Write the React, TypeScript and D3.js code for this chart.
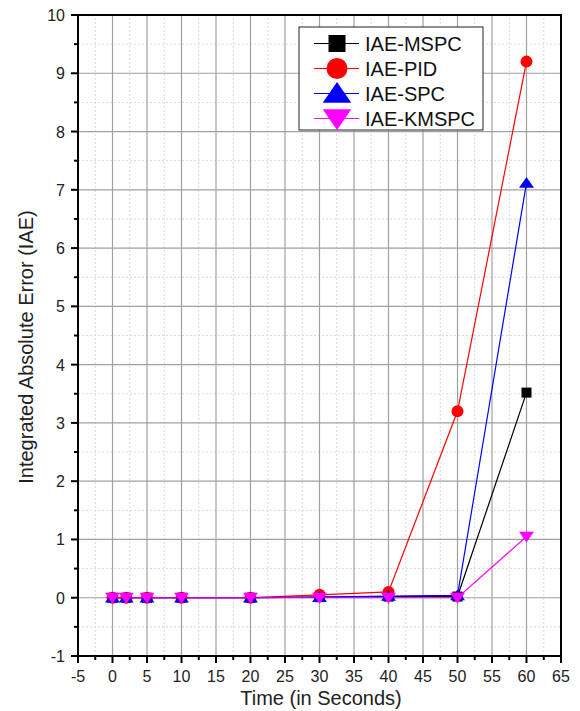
import React from "react";
import * as d3 from "d3";

const times = [0, 2, 5, 10, 20, 30, 40, 50, 60];
const mspc = [0, 0, 0, 0, 0, 0.01, 0.02, 0.02, 3.52];
const pid = [0, 0, 0, 0, 0, 0.05, 0.1, 3.2, 9.2];
const spc = [0, 0, 0, 0, 0, 0.01, 0.03, 0.04, 7.12];
const kmspc = [0, 0, 0, 0, 0, 0, 0, 0, 1.05];
const seriesNames = ["IAE-MSPC", "IAE-PID", "IAE-SPC", "IAE-KMSPC"];
const xTicks = [-5, 0, 5, 10, 15, 20, 25, 30, 35, 40, 45, 50, 55, 60, 65];
const yTicks = [-1, 0, 1, 2, 3, 4, 5, 6, 7, 8, 9, 10];

const W = 580, H = 711;
const m = { left: 78, right: 19, top: 15, bottom: 55 };

type Shape = "square" | "circle" | "up" | "down";

function Marker({ shape, x, y, s, color }: { shape: Shape; x: number; y: number; s: number; color: string }) {
  if (shape === "square") return <rect x={x - s / 2} y={y - s / 2} width={s} height={s} fill={color} />;
  if (shape === "circle") return <circle cx={x} cy={y} r={s / 2} fill={color} />;
  const w = s * 0.62, h = s * 0.9;
  if (shape === "up")
    return <path d={`M${x},${y - h * 0.55}L${x + w},${y + h * 0.45}L${x - w},${y + h * 0.45}Z`} fill={color} />;
  return <path d={`M${x},${y + h * 0.55}L${x + w},${y - h * 0.45}L${x - w},${y - h * 0.45}Z`} fill={color} />;
}

export default function App() {
  const x = d3.scaleLinear().domain([-5, 65]).range([m.left, W - m.right]);
  const y = d3.scaleLinear().domain([-1, 10]).range([H - m.bottom, m.top]);
  const series = [
    { name: seriesNames[0], vals: mspc, color: "#000000", shape: "square" as Shape, s: 10, ls: 17 },
    { name: seriesNames[1], vals: pid, color: "#ff0000", shape: "circle" as Shape, s: 12, ls: 21 },
    { name: seriesNames[2], vals: spc, color: "#0000ff", shape: "up" as Shape, s: 12, ls: 23 },
    { name: seriesNames[3], vals: kmspc, color: "#ff00ff", shape: "down" as Shape, s: 12, ls: 23 },
  ];
  const line = d3.line<number>().x((_, i) => x(times[i])).y((v) => y(v));
  const minorX = d3.range(-2.5, 65, 5);
  const minorY = d3.range(-0.5, 10, 1);
  const font = "'Liberation Sans', Arial, sans-serif";
  const x0 = x(-5), x1 = x(65), y0 = y(-1), y1 = y(10);
  const lg = { x: 299, y: 27, w: 184, h: 103 };
  return (
    <svg width={W} height={H} style={{ position: "absolute", left: 0, top: 0 }} fontFamily={font}>
      <rect width={W} height={H} fill="#fff" />
      {minorX.map((t) => (
        <line key={"mx" + t} x1={x(t)} x2={x(t)} y1={y0} y2={y1} stroke="#d8d8d8" strokeDasharray="2,2" />
      ))}
      {minorY.map((t) => (
        <line key={"my" + t} x1={x0} x2={x1} y1={y(t)} y2={y(t)} stroke="#d8d8d8" strokeDasharray="2,2" />
      ))}
      {xTicks.slice(1, -1).map((t) => (
        <line key={"gx" + t} x1={x(t)} x2={x(t)} y1={y0} y2={y1} stroke="#a0a0a0" strokeWidth={1.2} />
      ))}
      {yTicks.slice(1, -1).map((t) => (
        <line key={"gy" + t} x1={x0} x2={x1} y1={y(t)} y2={y(t)} stroke="#a0a0a0" strokeWidth={1.2} />
      ))}
      {/* frame */}
      <rect x={x0} y={y1} width={x1 - x0} height={y0 - y1} fill="none" stroke="#000" strokeWidth={2} />
      {/* ticks */}
      {xTicks.map((t) => (
        <g key={"tx" + t}>
          <line x1={x(t)} x2={x(t)} y1={y0} y2={y0 + 7} stroke="#000" strokeWidth={2} />
          <text x={x(t)} y={y0 + 26} textAnchor="middle" fontSize={16} fill="#222">{t}</text>
        </g>
      ))}
      {minorX.map((t) => (
        <line key={"tmx" + t} x1={x(t)} x2={x(t)} y1={y0} y2={y0 + 4} stroke="#000" strokeWidth={2} />
      ))}
      {yTicks.map((t) => (
        <g key={"ty" + t}>
          <line x1={x0 - 7} x2={x0} y1={y(t)} y2={y(t)} stroke="#000" strokeWidth={2} />
          <text x={x0 - 13} y={y(t) + 6} textAnchor="end" fontSize={16} fill="#222">{t}</text>
        </g>
      ))}
      {minorY.map((t) => (
        <line key={"tmy" + t} x1={x0 - 4} x2={x0} y1={y(t)} y2={y(t)} stroke="#000" strokeWidth={2} />
      ))}
      <text x={321} y={H - 6} textAnchor="middle" fontSize={20} fill="#222">Time (in Seconds)</text>
      <text transform={`translate(33,347) rotate(-90)`} textAnchor="middle" fontSize={20} fill="#222">
        Integrated Absolute Error (IAE)
      </text>
      {/* series */}
      {series.map((s) => (
        <path key={"l" + s.name} d={line(s.vals) || ""} fill="none" stroke={s.color} strokeWidth={1.2} />
      ))}
      {series.map((s) => (
        <g key={"m" + s.name}>
          {s.vals.map((v, i) => (
            <Marker key={i} shape={s.shape} x={x(times[i])} y={y(v)} s={s.s} color={s.color} />
          ))}
        </g>
      ))}
      {/* legend */}
      <rect x={lg.x} y={lg.y} width={lg.w} height={lg.h} fill="#fff" stroke="#222" strokeWidth={1} />
      {series.map((s, i) => {
        const cy = lg.y + 16.5 + i * 25;
        return (
          <g key={"lg" + s.name}>
            <line x1={314} x2={359} y1={cy} y2={cy} stroke={s.color} strokeWidth={1.2} />
            <Marker shape={s.shape} x={337} y={cy} s={s.ls} color={s.color} />
            <text x={365} y={cy + 7} fontSize={20} fill="#111">{s.name}</text>
          </g>
        );
      })}
    </svg>
  );
}
